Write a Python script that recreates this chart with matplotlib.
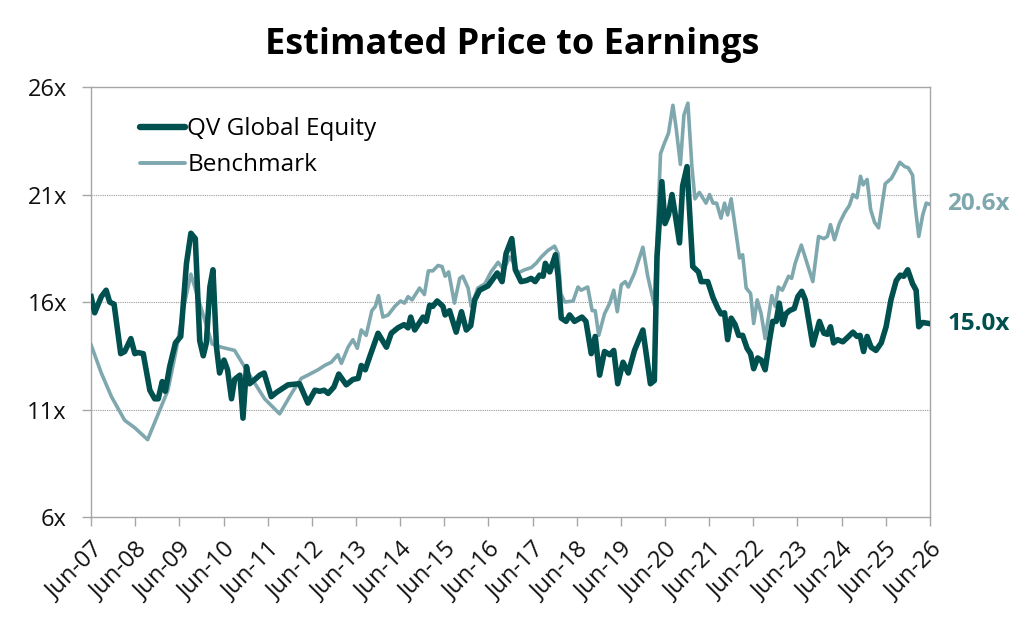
"""Estimated price to earnings: QV Global Equity vs benchmark."""

import matplotlib
matplotlib.use("Agg")
import matplotlib.pyplot as plt
from matplotlib.lines import Line2D

COLORS = {
    "qv": "#00504f",
    "bench": "#7fa8ae",
    "axis": "#a6a6a6",
    "grid": "#9a9a9a",
    "text": "#111111",
}

START = 2007 + 5 / 12  # Jun-07

# years since Jun-07, P/E
QV_T = [
    0.00, 0.08, 0.23, 0.34, 0.42, 0.52, 0.67, 0.76, 0.90, 0.99, 1.06, 1.18, 1.33, 1.44,
    1.52, 1.61, 1.68, 1.78, 1.91, 2.03, 2.16, 2.26, 2.36, 2.46, 2.54, 2.61, 2.69, 2.76,
    2.84, 2.91, 3.01, 3.09, 3.18, 3.25, 3.37, 3.44, 3.52, 3.59, 3.71, 3.82, 3.92, 4.08,
    4.20, 4.46, 4.72, 4.91, 5.07, 5.18, 5.28, 5.37, 5.50, 5.61, 5.78, 5.93, 6.05, 6.12,
    6.21, 6.31, 6.50, 6.69, 6.80, 6.95, 7.09, 7.18, 7.24, 7.33, 7.52, 7.59, 7.67, 7.74,
    7.84, 7.97, 8.02, 8.12, 8.27, 8.39, 8.50, 8.60, 8.69, 8.80, 8.99, 9.20, 9.31, 9.40,
    9.53, 9.61, 9.74, 9.86, 9.97, 10.06, 10.16, 10.24, 10.29, 10.39, 10.52, 10.58, 10.65,
    10.76, 10.84, 10.95, 11.12, 11.21, 11.33, 11.42, 11.52, 11.63, 11.75, 11.84, 11.93,
    12.05, 12.17, 12.31, 12.50, 12.67, 12.76, 12.82, 12.93, 13.00, 13.08, 13.16, 13.23,
    13.33, 13.40, 13.50, 13.63, 13.76, 13.82, 13.97, 14.09, 14.20, 14.27, 14.35, 14.42,
    14.50, 14.59, 14.67, 14.76, 14.86, 14.94, 15.01, 15.10, 15.18, 15.27, 15.37, 15.44,
    15.52, 15.59, 15.67, 15.74, 15.82, 15.93, 16.01, 16.10, 16.18, 16.35, 16.50, 16.60,
    16.68, 16.75, 16.82, 16.91, 17.03, 17.16, 17.26, 17.35, 17.42, 17.50, 17.58, 17.67,
    17.78, 17.90, 18.01, 18.12, 18.24, 18.33, 18.41, 18.50, 18.61, 18.69, 18.75, 18.84,
    18.99,
]
QV_PE = [
    16.25, 15.5, 16.25, 16.55, 16.0, 15.9, 13.6, 13.7, 14.3, 13.6, 13.65, 13.6, 11.9, 11.5,
    11.5, 12.3, 11.85, 13.0, 14.1, 14.4, 17.8, 19.2, 18.95, 14.2, 13.5, 14.1, 16.7, 17.5,
    13.9, 12.7, 13.3, 12.85, 11.5, 12.4, 12.6, 10.6, 13.0, 12.2, 12.4, 12.6, 12.7, 11.6,
    11.8, 12.15, 12.2, 11.3, 11.9, 11.85, 11.9, 11.75, 12.05, 12.65, 12.15, 12.4, 12.45, 13.05,
    12.85, 13.45, 14.55, 13.9, 14.55, 14.8, 14.95, 14.8, 15.3, 14.7, 15.3, 15.1, 15.85, 15.8,
    16.05, 15.8, 15.4, 15.6, 14.6, 15.55, 14.7, 14.9, 16.1, 16.55, 16.75, 17.35, 16.95, 18.25,
    18.95, 17.5, 16.95, 17.0, 17.1, 16.95, 17.25, 17.2, 17.8, 17.4, 18.2, 17.2, 15.25,
    15.1, 15.4, 15.1, 15.3, 15.1, 13.6, 14.4, 12.6, 13.7, 13.55, 13.75, 12.2,
    13.2, 12.7, 13.75, 14.7, 12.2, 12.35, 18.1, 21.6, 19.65, 20.05, 21.0, 20.1,
    18.75, 21.4, 22.3, 17.65, 17.4, 16.95, 16.95, 16.2, 15.7, 15.45, 15.5, 14.25,
    15.25, 14.95, 14.45, 14.45, 13.85, 13.6, 12.9, 13.4, 13.3, 12.85, 14.25, 15.1,
    15.1, 15.95, 14.95, 15.45, 15.6, 15.7, 16.25, 16.5, 16.1, 14.0, 15.1, 14.55,
    14.5, 14.85, 14.1, 14.25, 14.15, 14.4, 14.6, 14.4, 14.45, 13.7, 14.4, 13.9,
    13.75, 14.1, 14.85, 16.1, 17.0, 17.25, 17.2, 17.5, 16.85, 16.55, 14.85, 15.05,
    15.0,
]

BENCH_T = [
    0.00, 0.23, 0.46, 0.76, 0.99, 1.28, 1.52, 1.74, 1.93, 2.08, 2.26, 2.39, 2.57, 2.74,
    2.95, 3.25, 3.56, 3.93, 4.27, 4.54, 4.76, 4.91, 5.14, 5.29, 5.44, 5.59, 5.67, 5.82,
    5.93, 6.03, 6.12, 6.23, 6.36, 6.44, 6.51, 6.61, 6.73, 6.88, 7.01, 7.10, 7.18, 7.27,
    7.44, 7.55, 7.64, 7.74, 7.86, 7.95, 8.02, 8.10, 8.23, 8.35, 8.42, 8.54, 8.61, 8.76,
    8.92, 9.06, 9.22, 9.35, 9.48, 9.55, 9.67, 9.82, 9.97, 10.08, 10.20, 10.35, 10.50,
    10.58, 10.64, 10.73, 10.92, 11.03, 11.10, 11.25, 11.35, 11.42, 11.50, 11.63, 11.75,
    11.84, 11.92, 12.01, 12.10, 12.17, 12.31, 12.50, 12.61, 12.76, 12.90, 12.99, 13.08,
    13.18, 13.25, 13.35, 13.43, 13.52, 13.61, 13.68, 13.78, 13.93, 14.01, 14.09, 14.17,
    14.27, 14.35, 14.42, 14.50, 14.61, 14.69, 14.76, 14.84, 14.94, 15.01, 15.09, 15.18,
    15.27, 15.42, 15.50, 15.57, 15.66, 15.80, 15.87, 15.95, 16.09, 16.22, 16.35, 16.48,
    16.60, 16.68, 16.75, 16.84, 16.95, 17.07, 17.18, 17.26, 17.35, 17.43, 17.49, 17.58,
    17.66, 17.75, 17.84, 17.99, 18.13, 18.21, 18.32, 18.43, 18.51, 18.61, 18.67, 18.75,
    18.84, 18.92, 18.99,
]
BENCH_PE = [
    14.0, 12.7, 11.6, 10.5, 10.15, 9.6, 10.8, 11.9, 13.8, 15.6, 17.3, 16.4, 15.2, 14.05,
    13.9, 13.75, 12.7, 11.5, 10.8, 11.75, 12.45, 12.6, 12.85, 13.05, 13.2, 13.55, 13.15, 13.9,
    14.25, 13.85, 14.7, 14.45, 15.6, 15.8, 16.3, 15.3, 15.4, 15.8, 16.05, 15.95, 16.25, 16.1,
    16.65, 16.35, 17.45, 17.45, 17.7, 17.65, 17.2, 17.4, 15.95, 17.1, 17.2, 16.65, 15.8, 16.65,
    16.85, 17.4, 17.85, 17.5, 18.1, 17.9, 17.35, 17.5, 17.6, 17.8, 18.1, 18.4, 18.6,
    18.25, 16.4, 16.0, 16.05, 16.7, 16.55, 16.7, 15.6, 15.6, 14.45, 15.45, 15.95,
    16.55, 15.55, 16.8, 16.95, 16.7, 17.35, 18.55, 17.2, 15.85, 22.9, 23.4, 23.85,
    25.15, 24.15, 22.4, 24.7, 25.25, 22.3, 20.8, 21.1, 20.6, 21.0, 20.6, 20.6,
    19.9, 20.6, 20.05, 20.8, 19.2, 18.05, 18.2, 16.65, 16.4, 15.0, 16.1, 15.45,
    14.3, 16.3, 15.8, 16.7, 16.55, 17.2, 17.1, 17.8, 18.65, 17.8, 16.95, 19.05,
    18.95, 19.05, 19.6, 18.9, 19.65, 20.15, 20.5, 21.0, 20.85, 21.85, 21.45, 21.7,
    20.3, 19.7, 19.45, 21.5, 21.75, 22.05, 22.5, 22.3, 22.25, 21.9, 20.45, 19.05,
    20.05, 20.6, 20.55,
]

TICK_YEARS = list(range(2007, 2027))
TICK_LABELS = [f"Jun-{y % 100:02d}" for y in TICK_YEARS]
Y_TICKS = [6, 11, 16, 21, 26]
QV_LAST = "15.0x"
BENCH_LAST = "20.6x"

plt.rcParams["font.family"] = ["Open Sans", "DejaVu Sans"]

fig = plt.figure(figsize=(10.24, 6.26), dpi=100)
ax = fig.add_axes([0.089, 0.174, 0.819, 0.687])

qv_x = [START + t for t in QV_T]
bench_x = [START + t for t in BENCH_T]

ax.plot(bench_x, BENCH_PE, color=COLORS["bench"], linewidth=2.6, solid_joinstyle="round", zorder=3)
ax.plot(qv_x, QV_PE, color=COLORS["qv"], linewidth=4.0, solid_joinstyle="round", zorder=4)

ax.set_xlim(START, START + 19)
ax.set_ylim(6, 26)
ax.set_xticks([START + (y - 2007) for y in TICK_YEARS])
ax.set_xticklabels(TICK_LABELS, rotation=45, ha="right", va="top", rotation_mode="anchor", fontsize=17)
ax.set_yticks(Y_TICKS)
ax.set_yticklabels([f"{v}x" for v in Y_TICKS], fontsize=17)

for v in Y_TICKS[1:-1]:
    ax.axhline(v, color=COLORS["grid"], linewidth=0.8, linestyle=(0, (1, 1)), zorder=1)

for spine in ax.spines.values():
    spine.set_color(COLORS["axis"])
    spine.set_linewidth(1.0)
ax.tick_params(axis="both", colors=COLORS["axis"], labelcolor=COLORS["text"], length=6.5, width=1.0, direction="out")
ax.tick_params(axis="x", pad=8)
ax.tick_params(axis="y", pad=11)

ax.annotate(BENCH_LAST, (qv_x[-1], BENCH_PE[-1]), xytext=(13, 0), textcoords="offset points",
            ha="left", va="center", fontsize=17.5, weight="bold", color=COLORS["bench"], annotation_clip=False)
ax.annotate(QV_LAST, (qv_x[-1], QV_PE[-1]), xytext=(13, 0), textcoords="offset points",
            ha="left", va="center", fontsize=17.5, weight="bold", color=COLORS["qv"], annotation_clip=False)

handles = [
    Line2D([0], [0], color=COLORS["qv"], linewidth=4.6, solid_capstyle="round"),
    Line2D([0], [0], color=COLORS["bench"], linewidth=2.8, solid_capstyle="round"),
]
ax.legend(handles, ["QV Global Equity", "Benchmark"], loc="upper left", bbox_to_anchor=(0.032, 0.981),
          frameon=False, fontsize=17.5, handlelength=1.85, handletextpad=0.1, labelspacing=0.5)

fig.suptitle("Estimated Price to Earnings", fontsize=26, weight="bold", y=0.957, x=0.5)

fig.savefig("out.png", dpi=100)
